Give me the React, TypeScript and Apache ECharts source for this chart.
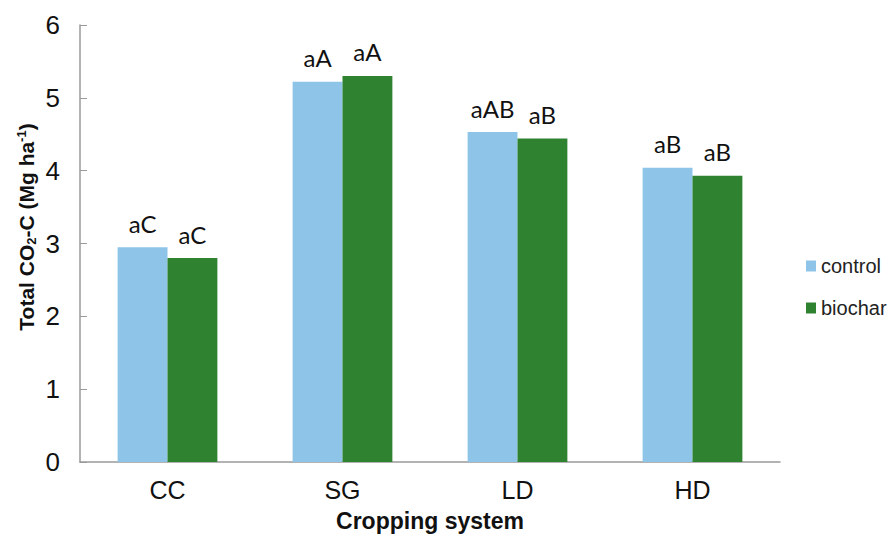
import React, { useEffect, useRef } from "react";
import * as echarts from "echarts";

const categories = ["CC", "SG", "LD", "HD"];
const controlValues = [2.95, 5.22, 4.53, 4.04];
const biocharValues = [2.8, 5.3, 4.44, 3.93];
const controlLetters = ["aC", "aA", "aAB", "aB"];
const biocharLetters = ["aC", "aA", "aB", "aB"];
const yTicks = [0, 1, 2, 3, 4, 5, 6];
const yAxisTitle = "Total CO{sub|2}-C (Mg ha{sup|-1})";
const xAxisTitle = "Cropping system";

export default function App() {
  const ref = useRef<HTMLDivElement>(null);
  useEffect(() => {
    if (!ref.current) return;
    const chart = echarts.init(ref.current, null, { renderer: "svg" });
    const labelStyle = (letters: string[]) => ({
      show: true,
      position: "top" as const,
      distance: 12,
      fontFamily: "Lato",
      fontSize: 24,
      color: "#111",
      formatter: (p: any) => letters[p.dataIndex],
    });
    chart.setOption({
      animation: false,
      backgroundColor: "#fff",
      grid: { left: 80, right: 115, top: 25, bottom: 77 },
      legend: {
        orient: "vertical",
        left: 801,
        top: 251,
        padding: 5,
        itemWidth: 10,
        itemHeight: 11,
        itemGap: 22,
        icon: "rect",
        textStyle: { fontFamily: "Liberation Sans", fontSize: 20, color: "#222" },
        data: ["control", "biochar"],
      },
      graphic: [
        {
          type: "text",
          x: 26,
          y: 227,
          rotation: Math.PI / 2,
          style: {
            text: yAxisTitle,
            fontFamily: "Liberation Sans",
            fontSize: 21,
            fontWeight: "bold",
            fill: "#111",
            align: "center",
            verticalAlign: "middle",
            rich: {
              sub: { fontFamily: "Liberation Sans", fontSize: 13, fontWeight: "bold", fill: "#111", padding: [10, 0, 0, 0] },
              sup: { fontFamily: "Liberation Sans", fontSize: 13, fontWeight: "bold", fill: "#111", padding: [0, 0, 10, 0] },
            },
          },
        },
        {
          type: "text",
          x: 430,
          y: 521,
          style: {
            text: xAxisTitle,
            fontFamily: "Liberation Sans",
            fontSize: 23,
            fontWeight: "bold",
            fill: "#111",
            align: "center",
            verticalAlign: "middle",
          },
        },
      ],
      xAxis: {
        type: "category",
        data: categories,
        axisLine: { lineStyle: { color: "#9a9a9a", width: 1.5 } },
        axisTick: { show: false },
        axisLabel: { fontFamily: "Liberation Sans", fontSize: 25, color: "#111", margin: 15 },
      },
      yAxis: {
        type: "value",
        min: yTicks[0],
        max: yTicks[yTicks.length - 1],
        interval: 1,
        splitLine: { show: false },
        axisLine: { show: true, lineStyle: { color: "#9a9a9a", width: 1.5 } },
        axisTick: { show: true, inside: true, length: 7, lineStyle: { color: "#9a9a9a" } },
        axisLabel: { fontFamily: "Liberation Sans", fontSize: 26, color: "#111", margin: 20 },
      },
      series: [
        {
          name: "control",
          type: "bar",
          data: controlValues,
          itemStyle: { color: "#8EC4E7" },
          barGap: "0%",
          barCategoryGap: "43%",
          label: labelStyle(controlLetters),
        },
        {
          name: "biochar",
          type: "bar",
          data: biocharValues,
          itemStyle: { color: "#2F8230" },
          label: labelStyle(biocharLetters),
        },
      ],
    });
    return () => chart.dispose();
  }, []);
  return (
    <div
      ref={ref}
      style={{ position: "absolute", left: 0, top: 0, width: 895, height: 539, margin: 0 }}
    />
  );
}
